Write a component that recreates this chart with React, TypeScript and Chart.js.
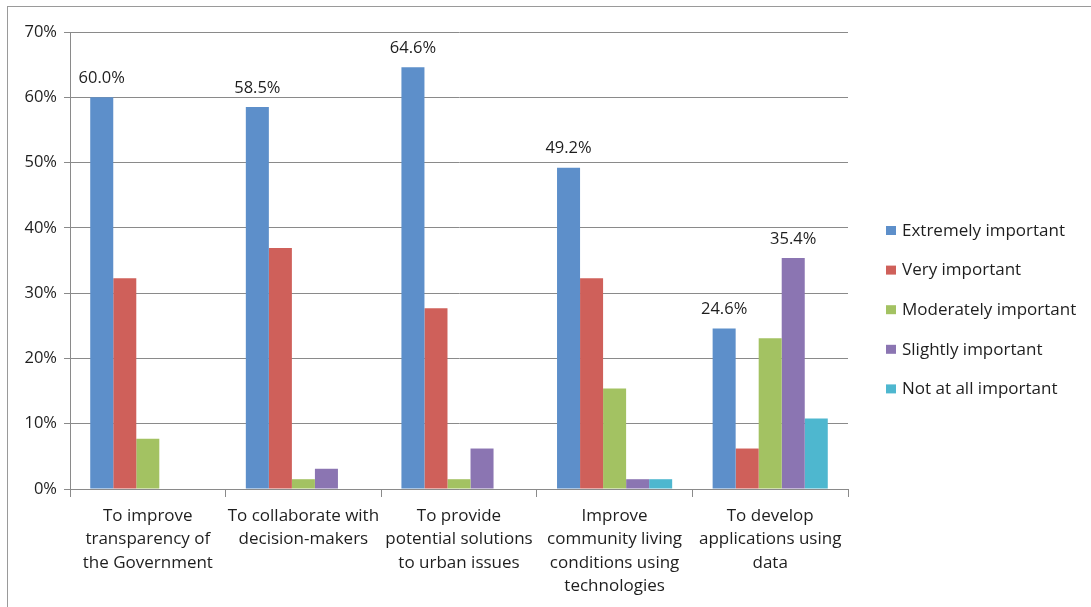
import React, { useEffect, useRef } from "react";
import { Chart, registerables } from "chart.js";

Chart.register(...registerables);

const categories: string[][] = [
  ["To improve", "transparency of", "the Government"],
  ["To collaborate with", "decision-makers"],
  ["To provide", "potential solutions", "to urban issues"],
  ["Improve", "community living", "conditions using", "technologies"],
  ["To develop", "applications using", "data"],
];

const seriesNames = [
  "Extremely important",
  "Very important",
  "Moderately important",
  "Slightly important",
  "Not at all important",
];

const extremely = [60.0, 58.5, 64.6, 49.2, 24.6];
const very = [32.3, 36.9, 27.7, 32.3, 6.2];
const moderately = [7.7, 1.5, 1.5, 15.4, 23.1];
const slightly = [0, 3.1, 6.2, 1.5, 35.4];
const notAtAll = [0, 0, 0, 1.5, 10.8];

const seriesColors = ["#5D8FCA", "#CF605A", "#A3C262", "#8B75B2", "#4EB7CF"];

// Which bars carry a value label: [datasetIndex, categoryIndex]
const labelled: [number, number][] = [
  [0, 0],
  [0, 1],
  [0, 2],
  [0, 3],
  [0, 4],
  [3, 4],
];

const yTicks = [0, 10, 20, 30, 40, 50, 60, 70];

const FONT = "'Open Sans', Lato, sans-serif";
const TEXT = "#1e1e1e";
const SIZE = 17;

const valueLabels = {
  id: "valueLabels",
  afterDatasetsDraw(chart: any) {
    const ctx = chart.ctx;
    ctx.save();
    ctx.font = `16.5px ${FONT}`;
    ctx.fillStyle = TEXT;
    ctx.textAlign = "center";
    ctx.textBaseline = "middle";
    for (const [di, ci] of labelled) {
      const bar = chart.getDatasetMeta(di).data[ci];
      const v = chart.data.datasets[di].data[ci] as number;
      ctx.fillText(v.toFixed(1) + "%", bar.x, bar.y - 19);
    }
    ctx.restore();
  },
};

// Category names under the axis, top-aligned, one line per array entry
const categoryLabels = {
  id: "categoryLabels",
  afterDraw(chart: any) {
    const ctx = chart.ctx;
    const xs = chart.scales.x;
    ctx.save();
    ctx.font = `${SIZE}px ${FONT}`;
    ctx.fillStyle = TEXT;
    ctx.textAlign = "center";
    ctx.textBaseline = "middle";
    (chart.data.labels as string[][]).forEach((lines, i) => {
      const x = xs.getPixelForValue(i);
      lines.forEach((line, j) => {
        ctx.fillText(line, x, xs.top + 27 + j * 23.4);
      });
    });
    ctx.restore();
  },
};

const sideLegend = {
  id: "sideLegend",
  afterDraw(chart: any) {
    const ctx = chart.ctx;
    ctx.save();
    ctx.font = `${SIZE}px ${FONT}`;
    ctx.textBaseline = "middle";
    ctx.textAlign = "left";
    const x0 = 886;
    const y0 = 231;
    const step = 39.6;
    chart.data.datasets.forEach((ds: any, i: number) => {
      const y = y0 + i * step;
      ctx.fillStyle = ds.backgroundColor;
      ctx.fillRect(x0, y - 5, 10, 9);
      ctx.fillStyle = TEXT;
      ctx.fillText(ds.label, x0 + 16, y);
    });
    ctx.restore();
  },
};

export default function App() {
  const ref = useRef<HTMLCanvasElement | null>(null);

  useEffect(() => {
    document.body.style.margin = "0";
    const values = [extremely, very, moderately, slightly, notAtAll];
    const chart = new Chart(ref.current!, {
      type: "bar",
      data: {
        labels: categories as any,
        datasets: values.map((d, i) => ({
          label: seriesNames[i],
          data: d,
          backgroundColor: seriesColors[i],
          borderWidth: 0,
          categoryPercentage: 0.74,
          barPercentage: 1.0,
        })),
      },
      options: {
        animation: false,
        responsive: false,
        maintainAspectRatio: false,
        layout: { padding: { left: 0, right: 243, top: 32, bottom: 0 } },
        plugins: {
          legend: { display: false },
          tooltip: { enabled: false },
          title: { display: false },
        },
        scales: {
          x: {
            afterFit: (axis: any) => {
              axis.height = 118;
            },
            grid: {
              display: true,
              drawOnChartArea: false,
              drawTicks: true,
              tickLength: 8,
              offset: true,
              color: "#8a8a8a",
            },
            border: { display: true, color: "#8a8a8a", width: 1 },
            ticks: { display: false, autoSkip: false, maxRotation: 0 },
          },
          y: {
            min: 0,
            max: 70,
            afterFit: (axis: any) => {
              axis.width = 70;
            },
            afterBuildTicks: (axis: any) => {
              axis.ticks = yTicks.map((v) => ({ value: v }));
            },
            grid: {
              color: "#8a8a8a",
              lineWidth: 1,
              tickLength: 6,
              drawTicks: true,
            },
            border: { display: true, color: "#8a8a8a", width: 1 },
            ticks: {
              color: TEXT,
              font: { family: FONT, size: 16.5 },
              padding: 7,
              callback: (v: any) => `${v}%`,
            },
          },
        },
      },
      plugins: [valueLabels, categoryLabels, sideLegend],
    });
    return () => chart.destroy();
  }, []);

  return (
    <div style={{ position: "relative", width: 1091, height: 607, background: "#fff", overflow: "hidden" }}>
      <div
        style={{
          position: "absolute",
          left: 7,
          top: 6,
          width: 1100,
          height: 620,
          borderLeft: "1px solid #9a9a9a",
          borderTop: "1px solid #9a9a9a",
        }}
      />
      <canvas ref={ref} width={1091} height={607} style={{ position: "absolute", left: 0, top: 0, display: "block" }} />
    </div>
  );
}
